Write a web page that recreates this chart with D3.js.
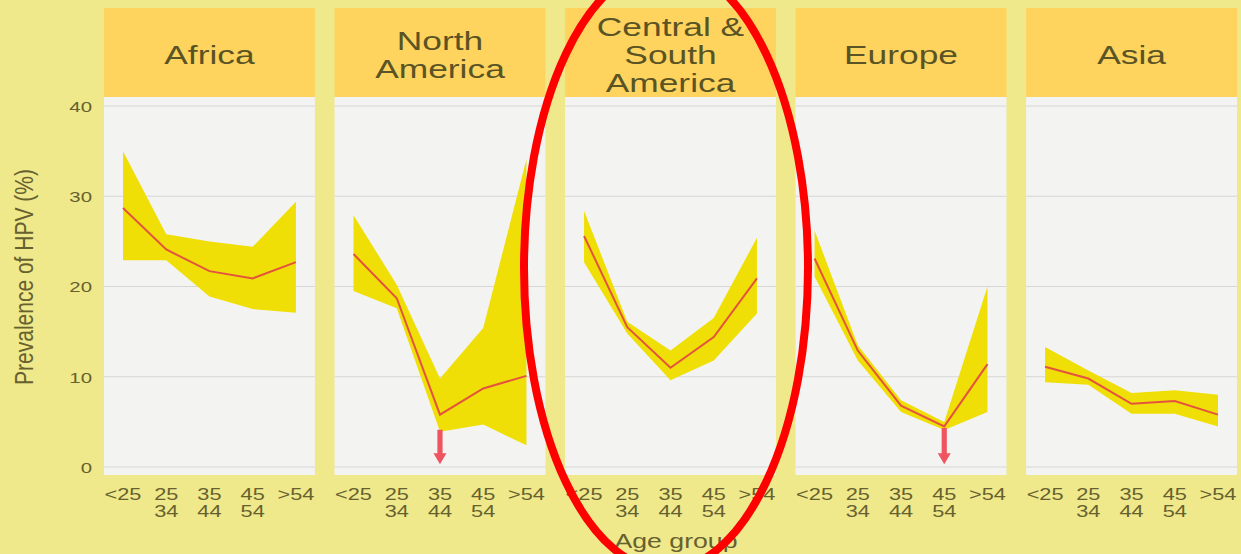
<!DOCTYPE html>
<html>
<head>
<meta charset="utf-8">
<script src="https://cdn.jsdelivr.net/npm/d3@7"></script>
<style>
  html, body { margin: 0; padding: 0; background: #efe98b; }
  svg { display: block; }
  text { font-family: "Liberation Sans", Arial, sans-serif; }
</style>
</head>
<body>
<svg id="chart" width="1241" height="554"></svg>
<script>
// Regions (one panel each) and their header lines
const regions = ["Africa", "North America", "Central & South America", "Europe", "Asia"];
const headerLines = [["Africa"], ["North", "America"], ["Central &", "South", "America"], ["Europe"], ["Asia"]];

// Age groups along each panel's x axis
const ageGroups = ["<25", "25-34", "35-44", "45-54", ">54"];
const ageLabels = [["<25"], ["25", "34"], ["35", "44"], ["45", "54"], [">54"]];

// Y axis ticks (prevalence, %)
const yTicks = [0, 10, 20, 30, 40];

// HPV prevalence (%) by age group, with lower / upper confidence bounds
const africaPrev = [28.7, 24.1, 21.7, 20.9, 22.7];
const africaLow  = [22.9, 22.9, 18.9, 17.5, 17.1];
const africaHigh = [35.0, 25.8, 25.0, 24.4, 29.4];

const northAmPrev = [23.6, 18.7, 5.8, 8.7, 10.1];
const northAmLow  = [19.5, 17.6, 3.9, 4.7, 2.4];
const northAmHigh = [27.9, 20.2, 9.8, 15.4, 34.1];

const centralPrev = [25.6, 15.5, 11.0, 14.4, 20.9];
const centralLow  = [22.7, 14.8, 9.6, 11.8, 17.0];
const centralHigh = [28.4, 16.1, 12.9, 16.5, 25.4];

const europePrev = [23.1, 12.9, 6.8, 4.5, 11.4];
const europeLow  = [21.1, 11.8, 6.1, 4.1, 6.1];
const europeHigh = [26.2, 13.5, 7.4, 5.0, 20.0];

const asiaPrev = [11.1, 9.8, 7.0, 7.3, 5.8];
const asiaLow  = [9.4, 9.1, 5.9, 5.9, 4.5];
const asiaHigh = [13.3, 10.7, 8.2, 8.5, 8.0];

// Lower bounds that run off below the plotted range
const arrowRegions = ["North America", "Europe"];
const arrowAges = ["35-44", "45-54"];

const prevSeries = [africaPrev, northAmPrev, centralPrev, europePrev, asiaPrev];
const lowSeries  = [africaLow, northAmLow, centralLow, europeLow, asiaLow];
const highSeries = [africaHigh, northAmHigh, centralHigh, europeHigh, asiaHigh];

const panels = regions.map((r, i) => ({
  region: r,
  header: headerLines[i],
  rows: ageGroups.map((a, j) => ({
    age: a,
    prev: prevSeries[i][j],
    low: lowSeries[i][j],
    high: highSeries[i][j]
  }))
}));

// Layout
const SX = 1.36;              // horizontal text stretch
const headerTop = 8, headerBottom = 97, bodyBottom = 475;
const textColor = "#5a5324";

const svg = d3.select("#chart");

const px = d3.scaleBand().domain(regions).range([104, 1237]).paddingInner(0.085).paddingOuter(0);
const y = d3.scaleLinear().domain([0, 40]).range([467, 106]);

const g = svg.selectAll("g.panel").data(panels).enter().append("g")
  .attr("class", "panel")
  .attr("transform", d => `translate(${px(d.region)},0)`);

const w = px.bandwidth();
const x = d3.scalePoint().domain(ageGroups).range([19, w - 19]);

// Header boxes
g.append("rect")
  .attr("x", 0).attr("y", headerTop)
  .attr("width", w).attr("height", headerBottom - headerTop)
  .attr("fill", "#fed45f");

// Header labels
g.each(function(d) {
  const n = d.header.length;
  const lh = 28, center = 54;
  d.header.forEach((line, k) => {
    const base = center + 9.5 + (k - (n - 1) / 2) * lh;
    d3.select(this).append("text")
      .attr("transform", `translate(${w / 2},${base}) scale(${SX},1)`)
      .attr("text-anchor", "middle")
      .attr("font-size", 26)
      .attr("fill", textColor)
      .text(line);
  });
});

// Plot bodies
g.append("rect")
  .attr("x", 0).attr("y", headerBottom)
  .attr("width", w).attr("height", bodyBottom - headerBottom)
  .attr("fill", "#f3f3f1");

// Gridlines
g.selectAll("line.grid").data(yTicks).enter().append("line")
  .attr("class", "grid")
  .attr("x1", 0).attr("x2", w)
  .attr("y1", t => y(t)).attr("y2", t => y(t))
  .attr("stroke", "#d6d6d4").attr("stroke-width", 1);

// Confidence bands
const area = d3.area()
  .x(r => x(r.age))
  .y0(r => y(r.low))
  .y1(r => y(r.high));
g.append("path")
  .attr("d", d => area(d.rows))
  .attr("fill", "#efdf06");

// Prevalence lines
const line = d3.line().x(r => x(r.age)).y(r => y(r.prev));
g.append("path")
  .attr("d", d => line(d.rows))
  .attr("fill", "none")
  .attr("stroke", "#e4533e")
  .attr("stroke-width", 2);

// Arrows marking open-ended lower bounds
arrowRegions.forEach((reg, i) => {
  const pi = regions.indexOf(reg);
  const row = panels[pi].rows.find(r => r.age === arrowAges[i]);
  const cx = px(reg) + x(arrowAges[i]);
  const top = y(row.low) - 2, tip = y(0.3);
  const sw = 2.6, hw = 6.5, hl = 11;
  const p = d3.path();
  p.moveTo(cx - sw, top);
  p.lineTo(cx + sw, top);
  p.lineTo(cx + sw, tip - hl);
  p.lineTo(cx + hw, tip - hl);
  p.lineTo(cx, tip);
  p.lineTo(cx - hw, tip - hl);
  p.lineTo(cx - sw, tip - hl);
  p.closePath();
  svg.append("path").attr("d", p.toString()).attr("fill", "#ee5560");
});

// X tick labels (two-line age ranges)
g.each(function() {
  const sel = d3.select(this);
  ageGroups.forEach((a, j) => {
    ageLabels[j].forEach((txt, k) => {
      sel.append("text")
        .attr("transform", `translate(${x(a)},${500 + k * 17}) scale(${SX},1)`)
        .attr("text-anchor", "middle")
        .attr("font-size", 16)
        .attr("fill", "#67612f")
        .text(txt);
    });
  });
});

// Y axis
const yAxis = d3.axisLeft(y).tickValues(yTicks).tickSize(0).tickPadding(0);
const ya = svg.append("g").attr("transform", "translate(92,0)").call(yAxis);
ya.select(".domain").remove();
ya.selectAll("text")
  .attr("x", 0)
  .attr("dy", "0.35em")
  .attr("transform", `scale(${SX},1)`)
  .attr("font-size", 15)
  .attr("font-family", "Liberation Sans, Arial, sans-serif")
  .attr("fill", "#67612f");

// Axis titles
svg.append("text")
  .attr("transform", `translate(33,277) scale(1.25,1) rotate(-90)`)
  .attr("text-anchor", "middle")
  .attr("font-size", 21)
  .attr("fill", "#67612f")
  .text("Prevalence of HPV (%)");

svg.append("text")
  .attr("transform", `translate(676,548) scale(1.27,1)`)
  .attr("text-anchor", "middle")
  .attr("font-size", 21)
  .attr("fill", "#67612f")
  .text("Age group");

// Red highlight ellipse around the Central & South America panel
svg.append("ellipse")
  .attr("cx", 666).attr("cy", 268)
  .attr("rx", 142).attr("ry", 302)
  .attr("fill", "none")
  .attr("stroke", "#ff0000")
  .attr("stroke-width", 8);
</script>
</body>
</html>
